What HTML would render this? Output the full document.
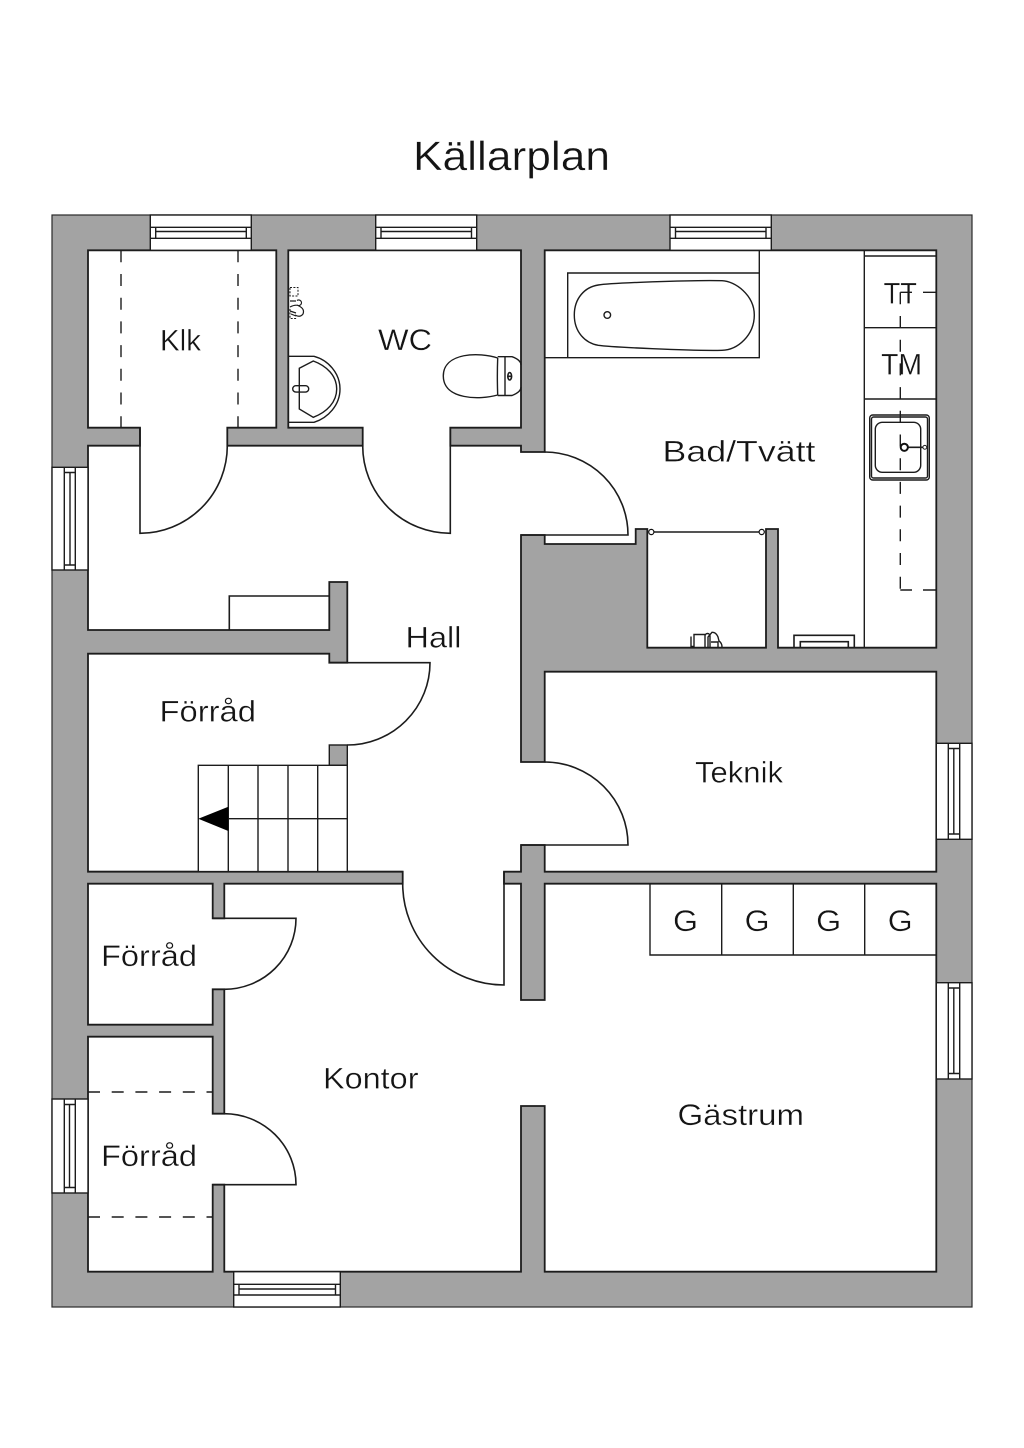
<!DOCTYPE html>
<html><head><meta charset="utf-8"><title>Källarplan</title>
<style>html,body{margin:0;padding:0;background:#fff}svg{display:block}
text{font-family:"Liberation Sans",sans-serif;fill:#141414;stroke:#fff;stroke-width:.35;paint-order:normal}
.l{fill:none;stroke:#1c1c1c;stroke-width:1.6}
.t{stroke-width:1.4}
.d{stroke-dasharray:12 11.7}
.w{fill:#fff;stroke:#1c1c1c;stroke-width:1.4}
</style></head><body>
<svg width="1024" height="1448" viewBox="0 0 1024 1448" xmlns="http://www.w3.org/2000/svg">
<rect width="1024" height="1448" fill="#fff"/>
<rect x="52" y="215" width="920" height="1092" fill="#a3a3a3" stroke="#2a2a2a" stroke-width="1.2"/>

<!-- rooms -->
<path fill="#fff" stroke="#1c1c1c" stroke-width="1.8" stroke-linejoin="miter" d="M88 250.3H276.3V427.7H227.3V445.7H362.7V427.7H288.3V250.3H521V427.7H450.3V445.7H521V452H544.7V250.3H936.3V647.7H778V529H766V647.7H647.3V529H635.7V544H544.7V535H521V762H544.7V671.7H936.3V871.7H544.7V845H521V871.7H504V883.7H521V1000H544.7V883.7H936.3V1271.7H544.7V1106H521V1271.7H224.3V1184.7H212.7V1271.7H88V1036.7H212.7V1113.7H224.3V989.3H212.7V1024.7H88V883.7H212.7V918.3H224.3V883.7H402.7V871.7H88V653.7H329.3V662.7H347.3V582H329.3V630H88V445.7H140V427.7H88Z"/>
<rect x="329.3" y="745" width="18" height="20.3" fill="#a3a3a3" stroke="#1c1c1c" stroke-width="1.4"/>

<!-- windows -->
<g class="win">
<rect class="w" x="150.3" y="215" width="101" height="35.3"/><path class="l t" d="M150.3 227.3H251.3M155.7 231.5H246.3M150.3 238.3H251.3M155.7 227.3V238.3M246.3 227.3V238.3"/>
<rect class="w" x="375.7" y="215" width="101" height="35.3"/><path class="l t" d="M375.7 227.3H476.7M381 231.5H471.5M375.7 238.3H476.7M381 227.3V238.3M471.5 227.3V238.3"/>
<rect class="w" x="670" y="215" width="101.3" height="35.3"/><path class="l t" d="M670 227.3H771.3M675.5 231.5H766M670 238.3H771.3M675.5 227.3V238.3M766 227.3V238.3"/>
<rect class="w" x="233.7" y="1271.7" width="106.6" height="35.3"/><path class="l t" d="M233.7 1284.3H340.3M239 1289H335.5M233.7 1295H340.3M239 1284.3V1295M335.5 1284.3V1295"/>
<rect class="w" x="52" y="467.3" width="36" height="102.7"/><path class="l t" d="M64.3 467.3V570M70 472.5H75.3M75.3 467.3V570M70 472.5V565M64.3 472.5H75.3M64.3 565H75.3"/>
<rect class="w" x="52" y="1099" width="36" height="94"/><path class="l t" d="M64.3 1099V1193M69.5 1104.5V1187.5M75.3 1099V1193M64.3 1104.5H75.3M64.3 1187.5H75.3"/>
<rect class="w" x="936.3" y="743.3" width="35.7" height="96"/><path class="l t" d="M948.3 743.3V839.3M953.8 748.5V834M959.7 743.3V839.3M948.3 748.5H959.7M948.3 834H959.7"/>
<rect class="w" x="936.3" y="982.7" width="35.7" height="96.3"/><path class="l t" d="M948.3 982.7V1079M953.8 988V1073.5M959.7 982.7V1079M948.3 988H959.7M948.3 1073.5H959.7"/>
</g>

<!-- doors -->
<path class="l" d="M140 427.7V533.3A87.5 87.5 0 0 0 227.3 445.7"/>
<path class="l" d="M450.3 427.7V533.3A87.5 87.5 0 0 1 362.7 445.7"/>
<path class="l" d="M544.7 452A83.3 83 0 0 1 628 535H521"/>
<path class="l" d="M544.7 762A83.3 83 0 0 1 628 845H521"/>
<path class="l" d="M329.3 662.7H430A82.7 82.3 0 0 1 347.3 745"/>
<path class="l" d="M504 871.7V985A101.3 101.3 0 0 1 402.7 883.7"/>
<path class="l" d="M212.7 918.3H296A71.7 71 0 0 1 224.3 989.3"/>
<path class="l" d="M224.3 1113.7A71.7 71 0 0 1 296 1184.7H212.7"/>

<!-- hall box -->
<path class="l" d="M229.3 630V596H329.3"/>

<!-- stairs -->
<rect x="198.3" y="765.3" width="149" height="106.4" fill="#fff"/>
<path class="l t" d="M198.3 871.7V765.3H347.3V871.7M228.3 765.3V871.7M258 765.3V871.7M288 765.3V871.7M317.7 765.3V871.7M228.3 818.7H347.3"/>
<path d="M198.3 818.7L228.3 806.7V831Z" fill="#000"/>
<path class="l" d="M88 871.7H402.7"/>

<!-- dashes -->
<path class="l t d" d="M121 250.3V427.7M238 250.3V427.7"/>
<path class="l t d" d="M88 1092H212.7M88 1217H212.7"/>

<!-- bath -->
<path class="l t" d="M544.7 357.7H759.3V250.3M567.7 357.7V273H759.3"/>
<path class="l t" d="M598.3 285C610 283 690 280 722 280.7C735 281 754.3 295 754.3 315C754.3 335 738 350 722 350.3C690 351 610 347 598.3 345.3C585 343 574.3 332 574.3 315C574.3 298 585 287 598.3 285Z"/>
<circle class="l t" cx="607.3" cy="315" r="3.3"/>

<!-- counter -->
<path class="l t" d="M864.3 250.3V647.7M864.3 256H936.3M864.3 327.7H936.3M864.3 399H936.3"/>
<rect class="l t" x="869.7" y="415" width="59.6" height="65" rx="3"/>
<rect class="l t" x="871.5" y="417" width="56" height="61" rx="2"/>
<rect class="l t" x="875.3" y="422.3" width="45.4" height="50" rx="7"/>

<!-- TT / TM labels go under dashes -->
<text x="883.5" y="303.3" font-size="30" textLength="33.5" lengthAdjust="spacingAndGlyphs">TT</text>
<text x="881" y="374.7" font-size="30" textLength="41" lengthAdjust="spacingAndGlyphs">TM</text>
<path class="l t d" d="M900.3 292.3V590"/>
<path class="l t" d="M900.3 292.3H912M923 292.3H936.3M900.3 590H912M923 590H936.3"/>

<path class="l" stroke-width="2" d="M904.3 447.3H924.3"/>
<circle cx="904.3" cy="447.3" r="3.6" fill="#fff" stroke="#111" stroke-width="2"/>
<circle cx="924.8" cy="447.3" r="1.9" fill="#fff" stroke="#222" stroke-width="1"/>

<!-- shower -->
<path class="l" stroke-width="1.6" d="M651.3 532H761.7"/>
<circle cx="651.3" cy="532" r="2.6" fill="#fff" stroke="#111" stroke-width="1.2"/>
<circle cx="761.7" cy="532" r="2.6" fill="#fff" stroke="#111" stroke-width="1.2"/>
<path class="l t" d="M691 636.5V646.5H694V634.5H705V647M705 639V636A2.5 2.5 0 0 1 710 636V647M708 647V637L712 632.3Q716 632 718 637L719 641Q722 643 722 647M711 642H718V647"/>
<path class="l" stroke-width="1.2" d="M794 647.7V635.3H854.3V647.7M800.3 647.7V641.7H848.3V647.7"/>

<!-- WC basin -->
<path class="l t" d="M288.3 356.3H314C328 360 340 373 340 389C340 405 328 418 314 422.3H288.3"/>
<path class="l t" d="M299.3 368.3L313.3 361C327 366 336.7 376 336.7 389C336.7 402 327 412 313.3 417.3L299.3 409Z"/>
<rect class="l t" x="292.7" y="385.7" width="16" height="6.4" rx="3.2" fill="#fff"/>

<!-- toilet -->
<path class="l t" d="M497.7 358C480 352 443.3 352 443.3 376C443.3 400 480 400 497.7 395"/>
<path class="l t" d="M497.7 358Q497 376 497.7 395M497.7 356.7H512Q521 360 521 365M497.7 395.5H512Q521 392 521 387M505 356.7V395.5"/>
<ellipse class="l" stroke-width="1" cx="509.7" cy="376.3" rx="1.9" ry="3.7"/>
<path class="l" stroke-width="1" d="M507.8 376.3H511.6"/>

<!-- wc fixture -->
<path fill="none" stroke="#1c1c1c" stroke-width="1" stroke-dasharray="2 1.4" d="M290 287.5H298V296H290ZM290 309V318.5H297"/>
<path fill="none" stroke="#1c1c1c" stroke-width="1.2" d="M290 301H296M297 300.5A2.8 2.8 0 1 1 297 305M290 307Q296 304 299 306Q305 309 303 314Q300 318 295 315M290 311L296 313M291 314L296 316"/>

<!-- G -->
<path class="l t" d="M650 883.7V955H936.3M721.7 883.7V955M793.3 883.7V955M864.7 883.7V955"/>
<text x="673" y="931" font-size="30" textLength="25" lengthAdjust="spacingAndGlyphs">G</text>
<text x="744.6" y="931" font-size="30" textLength="25" lengthAdjust="spacingAndGlyphs">G</text>
<text x="816.2" y="931" font-size="30" textLength="25" lengthAdjust="spacingAndGlyphs">G</text>
<text x="887.8" y="931" font-size="30" textLength="25" lengthAdjust="spacingAndGlyphs">G</text>

<!-- labels -->
<text x="413" y="170" font-size="41" textLength="197" lengthAdjust="spacingAndGlyphs">Källarplan</text>
<text x="160" y="350.3" font-size="30" textLength="41" lengthAdjust="spacingAndGlyphs">Klk</text>
<text x="378" y="350" font-size="30" textLength="54" lengthAdjust="spacingAndGlyphs">WC</text>
<text x="662.5" y="461.7" font-size="30" textLength="153" lengthAdjust="spacingAndGlyphs">Bad/Tvätt</text>
<text x="405.5" y="647.3" font-size="30" textLength="56" lengthAdjust="spacingAndGlyphs">Hall</text>
<text x="159.5" y="721.3" font-size="30" textLength="96.5" lengthAdjust="spacingAndGlyphs">Förråd</text>
<text x="101" y="966" font-size="30" textLength="96" lengthAdjust="spacingAndGlyphs">Förråd</text>
<text x="101" y="1166" font-size="30" textLength="96" lengthAdjust="spacingAndGlyphs">Förråd</text>
<text x="695" y="782.7" font-size="30" textLength="88" lengthAdjust="spacingAndGlyphs">Teknik</text>
<text x="323" y="1088.3" font-size="30" textLength="95.5" lengthAdjust="spacingAndGlyphs">Kontor</text>
<text x="677.5" y="1125" font-size="30" textLength="126.5" lengthAdjust="spacingAndGlyphs">Gästrum</text>
</svg>
</body></html>
